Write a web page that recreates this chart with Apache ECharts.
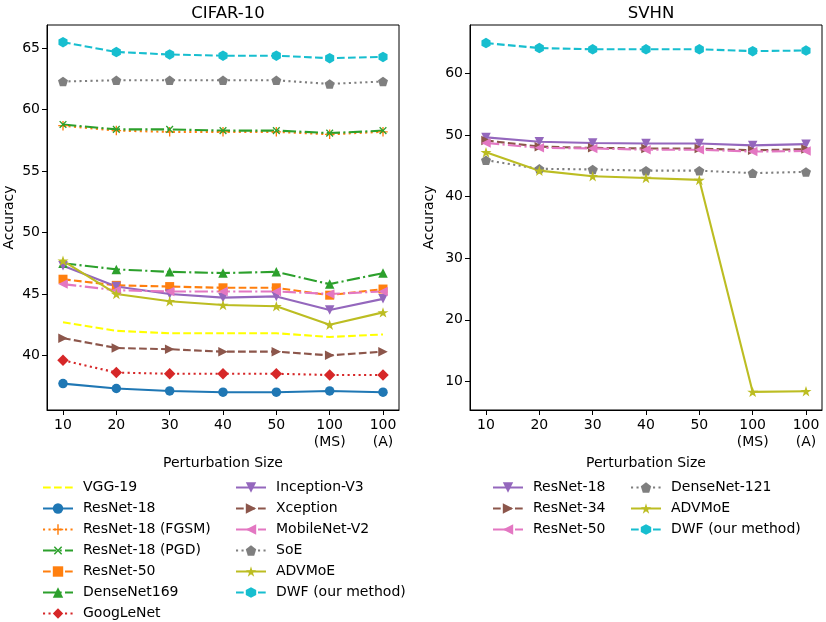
<!DOCTYPE html>
<html><head><meta charset="utf-8">
<script src="https://cdn.jsdelivr.net/npm/echarts@6/dist/echarts.min.js"></script>
<style>html,body{margin:0;padding:0;background:#fff}#c{width:826px;height:622px}</style>
</head><body><div id="c"></div>
<script>
// ---------- data ----------
const tickLabels = ['10', '20', '30', '40', '50', '100\n(MS)', '100\n(A)'];
const xPositions = [0, 1, 2, 3, 4, 5, 6];
const cifarYTicks = [40, 45, 50, 55, 60, 65];
const svhnYTicks = [10, 20, 30, 40, 50, 60];

// CIFAR-10
const cifarVGG19        = [42.7, 42.0, 41.8, 41.8, 41.8, 41.5, 41.7];
const cifarResNet18     = [37.7, 37.3, 37.1, 37.0, 37.0, 37.1, 37.0];
const cifarResNet18FGSM = [58.7, 58.3, 58.2, 58.2, 58.2, 58.0, 58.2];
const cifarResNet18PGD  = [58.8, 58.4, 58.4, 58.3, 58.3, 58.1, 58.3];
const cifarResNet50     = [46.2, 45.7, 45.6, 45.5, 45.5, 44.9, 45.4];
const cifarDenseNet169  = [47.5, 47.0, 46.8, 46.7, 46.8, 45.8, 46.7];
const cifarGoogLeNet    = [39.6, 38.6, 38.5, 38.5, 38.5, 38.4, 38.4];
const cifarInceptionV3  = [47.3, 45.6, 45.0, 44.7, 44.8, 43.7, 44.6];
const cifarXception     = [41.4, 40.6, 40.5, 40.3, 40.3, 40.0, 40.3];
const cifarMobileNetV2  = [45.8, 45.3, 45.2, 45.2, 45.2, 45.0, 45.2];
const cifarSoE          = [62.3, 62.4, 62.4, 62.4, 62.4, 62.1, 62.3];
const cifarADVMoE       = [47.7, 45.0, 44.4, 44.1, 44.0, 42.5, 43.5];
const cifarDWF          = [65.5, 64.7, 64.5, 64.4, 64.4, 64.2, 64.3];

// SVHN
const svhnResNet18    = [49.6, 48.9, 48.7, 48.6, 48.6, 48.3, 48.5];
const svhnResNet34    = [49.1, 48.1, 47.9, 47.8, 47.8, 47.5, 47.7];
const svhnResNet50    = [48.7, 47.9, 47.8, 47.6, 47.6, 47.3, 47.4];
const svhnDenseNet121 = [45.9, 44.5, 44.4, 44.2, 44.2, 43.8, 44.0];
const svhnADVMoE      = [47.2, 44.2, 43.3, 43.0, 42.7, 8.3, 8.4];
const svhnDWF         = [64.9, 64.1, 63.9, 63.9, 63.9, 63.6, 63.7];

// ---------- styles ----------
const FONT = 'DejaVu Sans';
const C = {blue:'#1f77b4', orange:'#ff7f0e', green:'#2ca02c', red:'#d62728', purple:'#9467bd',
  brown:'#8c564b', pink:'#e377c2', gray:'#7f7f7f', olive:'#bcbd22', cyan:'#17becf', yellow:'#ffff00'};
const DASH = {solid:'solid', dashed:[7.7, 3.3], dashdot:[13.3, 3.3, 2.1, 3.3], dotted:[2.1, 3.4]};

function polyPath(n, startDeg, inner) {
  const pts = [];
  const count = inner ? n * 2 : n;
  for (let k = 0; k < count; k++) {
    const a = (startDeg + k * 360 / count) * Math.PI / 180;
    const r = inner && (k % 2 === 1) ? inner : 1;
    pts.push((r * Math.cos(a)).toFixed(4) + ',' + (-r * Math.sin(a)).toFixed(4));
  }
  return 'path://M' + pts.join(' L') + ' Z';
}
const SYM = {
  o: 'circle',
  s: 'rect',
  '^': 'triangle',
  v: 'path://M0,0 L10,0 L5,10 Z',
  '>': 'path://M0,0 L10,5 L0,10 Z',
  '<': 'path://M10,0 L0,5 L10,10 Z',
  D: 'diamond',
  p: polyPath(5, 90),
  h: polyPath(6, 90),
  '*': polyPath(5, 90, 0.381966),
  '+': 'path://M0.43,0 L0.57,0 L0.57,0.43 L1,0.43 L1,0.57 L0.57,0.57 L0.57,1 L0.43,1 L0.43,0.57 L0,0.57 L0,0.43 L0.43,0.43 Z',
  none: 'none'
};
const SIZE = {o:9.5, s:9, '^':9.5, v:9.5, '>':9.5, '<':9.5, D:11.5, p:10, h:10.5, '*':11, '+':9.5, x:9.5, none:0};

function mk(name, values, gi, color, dash, marker) {
  const isX = marker === 'x';
  return {
    type: 'line', name: name, xAxisIndex: gi, yAxisIndex: gi,
    data: values.map((v, i) => [xPositions[i], v]),
    symbol: isX ? SYM['+'] : SYM[marker],
    symbolRotate: isX ? 45 : 0,
    symbolSize: SIZE[marker],
    symbolKeepAspect: true,
    showSymbol: marker !== 'none',
    lineStyle: {color: color, width: 2.1, type: DASH[dash]},
    itemStyle: {color: color},
    emphasis: {disabled: true},
    animation: false
  };
}

const Z = '\u200b';
const cifarSeries = [
  mk('VGG-19', cifarVGG19, 0, C.yellow, 'dashed', 'none'),
  mk('ResNet-18', cifarResNet18, 0, C.blue, 'solid', 'o'),
  mk('ResNet-18 (FGSM)', cifarResNet18FGSM, 0, C.orange, 'dotted', '+'),
  mk('ResNet-18 (PGD)', cifarResNet18PGD, 0, C.green, 'dashdot', 'x'),
  mk('ResNet-50', cifarResNet50, 0, C.orange, 'dashed', 's'),
  mk('DenseNet169', cifarDenseNet169, 0, C.green, 'dashdot', '^'),
  mk('GoogLeNet', cifarGoogLeNet, 0, C.red, 'dotted', 'D'),
  mk('Inception-V3', cifarInceptionV3, 0, C.purple, 'solid', 'v'),
  mk('Xception', cifarXception, 0, C.brown, 'dashed', '>'),
  mk('MobileNet-V2', cifarMobileNetV2, 0, C.pink, 'dashdot', '<'),
  mk('SoE', cifarSoE, 0, C.gray, 'dotted', 'p'),
  mk('ADVMoE', cifarADVMoE, 0, C.olive, 'solid', '*'),
  mk('DWF (our method)', cifarDWF, 0, C.cyan, 'dashed', 'h')
];
const svhnSeries = [
  mk('ResNet-18' + Z, svhnResNet18, 1, C.purple, 'solid', 'v'),
  mk('ResNet-34' + Z, svhnResNet34, 1, C.brown, 'dashed', '>'),
  mk('ResNet-50' + Z, svhnResNet50, 1, C.pink, 'dashdot', '<'),
  mk('DenseNet-121' + Z, svhnDenseNet121, 1, C.gray, 'dotted', 'p'),
  mk('ADVMoE' + Z, svhnADVMoE, 1, C.olive, 'solid', '*'),
  mk('DWF (our method)' + Z, svhnDWF, 1, C.cyan, 'dashed', 'h')
];

function xAx(gi) {
  return {
    type: 'value', gridIndex: gi, min: -0.3, max: 6.3,
    name: 'Perturbation Size', nameLocation: 'middle', nameGap: 46,
    nameTextStyle: {fontFamily: FONT, fontSize: 14, color: '#000'},
    axisLine: {show: true, onZero: false, lineStyle: {color: '#000', width: 1}},
    axisTick: {show: true, customValues: xPositions, length: 5, lineStyle: {color: '#000', width: 1}},
    axisLabel: {customValues: xPositions, formatter: v => tickLabels[Math.round(v)], margin: 7,
      fontFamily: FONT, fontSize: 14, color: '#000', lineHeight: 17},
    splitLine: {show: false}
  };
}
function yAx(gi, min, max, ticks, gap) {
  return {
    type: 'value', gridIndex: gi, min: min, max: max,
    name: 'Accuracy', nameLocation: 'middle', nameGap: gap, nameRotate: 90,
    nameTextStyle: {fontFamily: FONT, fontSize: 14, color: '#000'},
    axisLine: {show: true, onZero: false, lineStyle: {color: '#000', width: 1}},
    axisTick: {show: true, customValues: ticks, length: 5, lineStyle: {color: '#000', width: 1}},
    axisLabel: {customValues: ticks, margin: 7, fontFamily: FONT, fontSize: 14, color: '#000'},
    splitLine: {show: false}
  };
}

function legend(names, left, top) {
  return {
    data: names.map(n => n === 'VGG-19' ? {name: n, itemStyle: {opacity: 0}} : n),
    orient: 'vertical', left: left, top: top,
    itemWidth: 30, itemHeight: 13, itemGap: 6, padding: 0,
    selectedMode: false,
    formatter: n => n.replace(/\u200b/g, ''),
    textStyle: {fontFamily: FONT, fontSize: 14, color: '#000', lineHeight: 15, padding: [0, 0, 0, 5]}
  };
}

const chart = echarts.init(document.getElementById('c'), null, {renderer: 'canvas'});
chart.setOption({
  backgroundColor: '#fff',
  animation: false,
  title: [
    {text: 'CIFAR-10', left: 223, top: 0, textAlign: 'center', textStyle: {fontFamily: FONT, fontSize: 16.5, fontWeight: 'normal', color: '#000'}},
    {text: 'SVHN', left: 646, top: 0, textAlign: 'center', textStyle: {fontFamily: FONT, fontSize: 16.5, fontWeight: 'normal', color: '#000'}}
  ],
  grid: [
    {left: 47, top: 25, width: 352, height: 385, show: true, borderColor: '#000', borderWidth: 1, backgroundColor: 'transparent'},
    {left: 470, top: 25, width: 352, height: 385, show: true, borderColor: '#000', borderWidth: 1, backgroundColor: 'transparent'}
  ],
  xAxis: [xAx(0), xAx(1)],
  yAxis: [yAx(0, 35.55, 66.9, cifarYTicks, 31), yAx(1, 5.36, 67.84, svhnYTicks, 34)],
  legend: [
    legend(cifarSeries.slice(0, 7).map(s => s.name), 42, 480),
    legend(cifarSeries.slice(7).map(s => s.name), 235, 480),
    legend(svhnSeries.slice(0, 3).map(s => s.name), 492, 480),
    legend(svhnSeries.slice(3).map(s => s.name), 630, 480)
  ],
  series: cifarSeries.concat(svhnSeries)
});
</script>
</body></html>
